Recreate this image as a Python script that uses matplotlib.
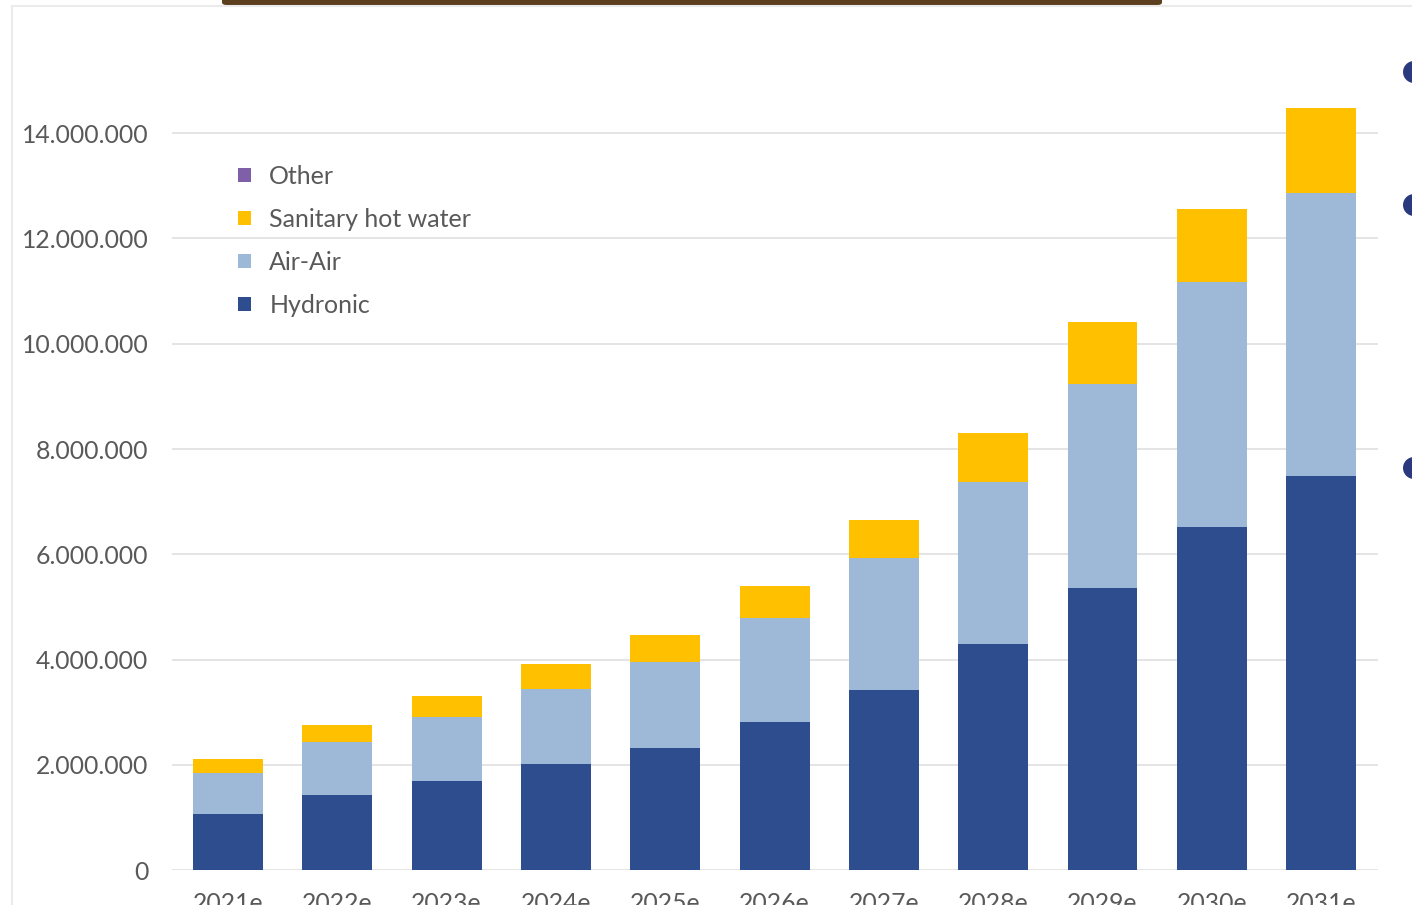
import matplotlib.pyplot as plt
from matplotlib.patches import Rectangle, Ellipse, FancyBboxPatch
from matplotlib.lines import Line2D
import numpy as np

# heat pump sales forecast, units per year
years = ['2021e', '2022e', '2023e', '2024e', '2025e', '2026e',
         '2027e', '2028e', '2029e', '2030e', '2031e']
hydronic = [1.07e6, 1.42e6, 1.70e6, 2.01e6, 2.31e6, 2.81e6,
            3.42e6, 4.30e6, 5.36e6, 6.51e6, 7.48e6]
air_air = [0.77e6, 1.01e6, 1.20e6, 1.43e6, 1.65e6, 1.98e6,
           2.50e6, 3.08e6, 3.88e6, 4.66e6, 5.38e6]
hot_water = [0.26e6, 0.33e6, 0.41e6, 0.47e6, 0.51e6, 0.61e6,
             0.74e6, 0.93e6, 1.17e6, 1.40e6, 1.62e6]
other = [0] * 11

series = ['Hydronic', 'Air-Air', 'Sanitary hot water', 'Other']
colours = ['#2E4D8F', '#9DB9D7', '#FFC000', '#7F5FA8']
yticks = [0, 2e6, 4e6, 6e6, 8e6, 10e6, 12e6, 14e6]

W, H = 1412, 905
plt.rcParams['font.family'] = ['Lato', 'DejaVu Sans']
fig = plt.figure(figsize=(W / 100, H / 100), dpi=100)
fig.patch.set_facecolor('white')

# slide decoration: card border, brown header strip, bullets on the right
fig.add_artist(Line2D([12 / W, 12 / W], [0, 1 - 7 / H], color='#EBEBEB', lw=1.5))
fig.add_artist(Line2D([12 / W, 1], [1 - 6 / H, 1 - 6 / H], color='#EBEBEB', lw=1.5))
fig.add_artist(FancyBboxPatch((222 / W, 1 - 5 / H), 940 / W, 8 / H,
                              boxstyle='round,pad=0,rounding_size=0.003',
                              fc='#5B3F1E', ec='none'))
for yy in [72, 205, 468]:
    fig.add_artist(Ellipse((1414 / W, 1 - yy / H), 22 / W, 22 / H,
                           fc='#2B3A7E', ec='none'))

y0_px, top_px = 870, 28
ax = fig.add_axes([172 / W, 1 - y0_px / H, (1378 - 172) / W, (y0_px - top_px) / H])
ax.set_facecolor('none')

x = np.arange(len(years))
bottom = np.zeros(len(years))
for name, vals, c in zip(series, [hydronic, air_air, hot_water, other], colours):
    ax.bar(x, vals, 0.64, bottom=bottom, color=c, label=name, zorder=3)
    bottom += np.array(vals)

ax.set_xlim(-0.512, 10.52)
ax.set_ylim(0, 16e6)
ax.set_yticks(yticks)
ax.set_yticklabels(['{:,.0f}'.format(v).replace(',', '.') for v in yticks])
ax.set_xticks(x)
ax.set_xticklabels(years)
ax.tick_params(axis='y', length=0, pad=17, labelsize=17.8, labelcolor='#595959')
ax.tick_params(axis='x', length=0, pad=16, labelsize=17.8, labelcolor='#595959')
ax.grid(axis='y', color='#E4E4E4', lw=1.4, zorder=0)
for s in ax.spines.values():
    s.set_visible(False)

handles = [Rectangle((0, 0), 1, 1, fc=c, ec='none') for c in colours][::-1]
leg = ax.legend(handles, series[::-1], loc='upper left',
                bbox_to_anchor=((228 - 172) / (1378 - 172), (y0_px - 155) / (y0_px - top_px)),
                frameon=False, fontsize=18, labelspacing=0.8,
                handlelength=0.5, handleheight=0.5, handletextpad=0.75,
                borderaxespad=0)
for t in leg.get_texts():
    t.set_color('#595959')

fig.savefig('out.png', dpi=100)
